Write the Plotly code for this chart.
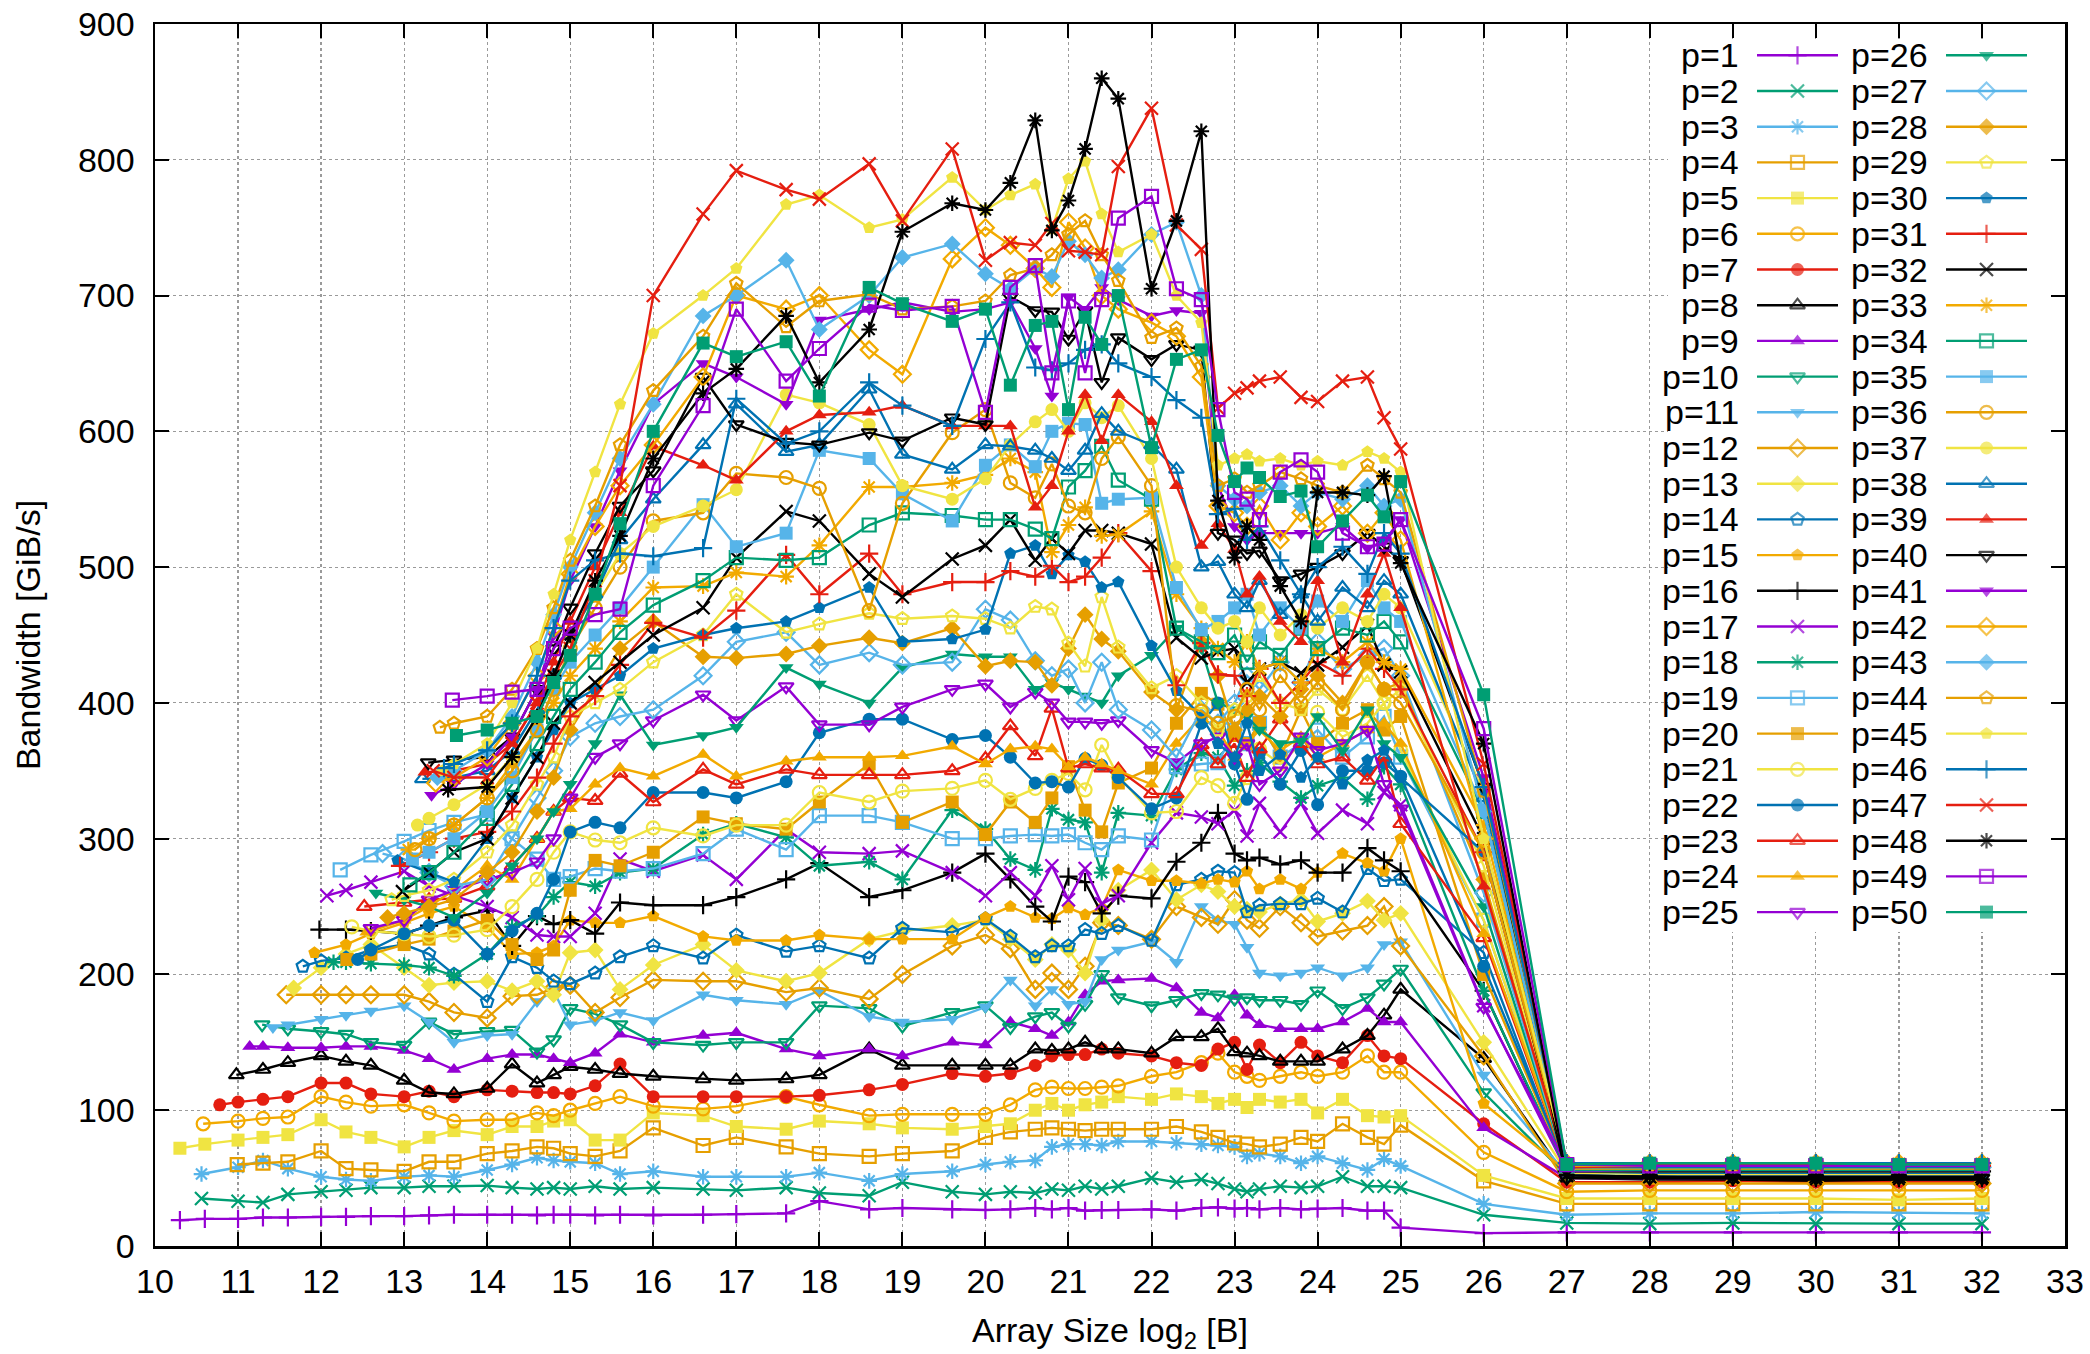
import plotly.graph_objects as go

# ---------------- data ----------------
X_GRID = [10.3, 10.6, 11.0, 11.3, 11.6, 12.0, 12.3, 12.6, 13.0, 13.3, 13.6, 14.0, 14.3, 14.6, 14.8,
          15.0, 15.3, 15.6, 16.0, 16.6, 17.0, 17.6, 18.0, 18.6, 19.0, 19.6,
          20.0, 20.3, 20.6, 20.8, 21.0, 21.2, 21.4, 21.6, 22.0,
          22.3, 22.6, 22.8, 23.0, 23.15, 23.3, 23.55, 23.8, 24.0, 24.3, 24.6, 24.8, 25.0,
          26, 27, 28, 29, 30, 31, 32]

START_X = [10.3, 10.56, 10.56, 10.99, 10.3, 10.58, 10.78, 10.98, 11.14, 11.29,
           11.42, 11.58, 11.67, 11.78, 11.92, 11.98, 12.07, 12.15, 12.23, 12.31,
           12.37, 12.44, 12.52, 12.55, 12.6, 12.66, 12.74, 12.8, 12.85, 12.92,
           12.95, 12.98, 13.05, 13.07, 13.1, 13.13, 13.16, 13.22, 13.25, 13.29,
           13.33, 13.38, 13.4, 13.43, 13.46, 13.48, 13.35, 13.53, 13.58, 13.63]

p01 = [19, 20, 20, 21, 21, 21.5, 21.5, 22, 22, 22.5, 23, 23, 23, 22.5, 23,
       23, 22.5, 23, 22.5, 23, 23.5, 24, 33, 27, 28, 27,
       26.5, 27, 28, 27, 28, 26, 26.5, 26.5, 27,
       26, 28, 28.5, 27.5, 28, 27, 28, 27, 27.5, 28, 26, 26, 13.5,
       9.5, 10, 10, 10, 10, 10, 10]
p02 = [35, 33, 32, 38, 40, 41, 43, 43, 44, 44, 44.5, 43, 42, 43,
       42, 44, 42, 43, 42, 41, 43, 39, 37, 47, 40,
       38, 40, 39, 42, 41, 44, 42, 44, 50,
       47, 49, 46, 42, 40, 42, 44, 43, 44, 51, 44, 44, 43,
       23, 17, 16.5, 17, 16.5, 16.5, 16.5]
p03 = [53, 58, 63, 57, 51, 49, 48, 51, 52, 51, 56, 60, 65, 63,
       62, 61, 53, 55, 51, 51, 51, 54, 48, 53, 55,
       60, 62, 63, 73, 75, 75, 74, 77, 77,
       76, 75, 74, 73, 66, 68, 66, 61, 66, 61, 56, 64, 59,
       31, 23, 24, 24, 25, 24.5, 24]
p04 = [60, 61, 62, 70, 57, 56, 55, 62, 62, 68, 70, 73, 72,
       68, 66, 70, 87, 74, 80, 73, 68, 66, 68, 70,
       80, 84, 86, 87, 86, 85, 86, 86, 86,
       88, 84, 80, 76, 75, 73, 75, 80, 77, 90, 80, 75, 89,
       48, 31, 31, 31, 31, 31, 31]
p05 = [72, 75, 78, 80, 82, 93, 84, 80, 73, 80, 85, 82, 88, 88, 92,
       93, 78, 78, 98, 96, 88, 86, 92, 90, 87, 86,
       88, 90, 100, 105, 100, 104, 106, 110, 108,
       112, 110, 105, 108, 102, 108, 106, 108, 98, 108, 96, 95, 96,
       52, 35, 35, 35, 35, 34, 35]
p06 = [90, 92, 94, 95, 110, 106, 103, 104, 98, 92, 93, 93, 98, 96,
       100, 105, 110, 103, 101, 103, 110, 104, 96, 97, 97,
       97, 104, 115, 117, 116, 116, 117, 118, 125,
       128, 135, 142, 128, 125, 122, 125, 128, 125, 128, 140, 128, 128,
       69, 40, 41, 41, 41, 41, 41]
p07 = [104, 106, 108, 110, 120, 120, 112, 110, 114, 110, 115, 114, 113, 113,
       112, 118, 134, 110, 110, 110, 110, 111, 115, 119, 127,
       125, 127, 133, 140, 141, 141, 145, 142, 140,
       135, 133, 145, 150, 130, 148, 135, 150, 140, 135, 155, 140, 138,
       90, 47, 47, 48, 47, 47, 47]
p08 = [126, 130, 135, 140, 136, 133, 122, 113, 112, 116, 134, 120, 126,
       132, 130, 127, 125, 123, 122, 123, 126, 145, 133, 133,
       133, 133, 145, 144, 145, 150, 145, 145, 142,
       154, 154, 160, 143, 142, 140, 136, 136, 136, 145, 155, 170, 189,
       138, 50, 49, 49, 48, 49, 49]
p09 = [147, 147, 146, 146, 147, 147, 144, 138, 130, 138, 141, 141, 138,
       135, 142, 156, 150, 155, 157, 145, 140, 145, 140, 150,
       148, 165, 160, 155, 165, 185, 195, 196, 197,
       190, 172, 168, 185, 170, 163, 160, 160, 160, 165, 175, 165, 165,
       87, 50, 50, 50, 50, 50, 50]
p10 = [163, 160, 158, 156, 150, 148, 165, 156, 158, 159, 143, 152,
       175, 171, 163, 150, 148, 150, 150, 177, 175, 162, 172,
       177, 161, 169, 172, 162, 178, 200, 183, 177,
       181, 186, 185, 182, 183, 181, 181, 178, 188, 175, 183, 193, 204,
       113, 52, 51, 51, 51, 51, 51]
p11 = [161, 163, 167, 170, 173, 177, 165, 150, 155, 156, 180, 188,
       163, 166, 172, 166, 185, 181, 178, 188, 169, 165, 167,
       176, 196, 177, 189, 178, 180, 211, 218, 224,
       209, 250, 240, 237, 220, 201, 199, 201, 205, 199, 205, 222, 224,
       126, 53, 52, 52, 52, 52, 52]
p12 = [185, 185, 185, 185, 185, 180, 172, 168, 184, 185, 190,
       192, 172, 183, 196, 195, 195, 187, 190, 182, 200, 221,
       229, 219, 189, 201, 189, 206, 238, 236, 226,
       250, 242, 237, 255, 240, 234, 250, 238, 228, 232, 236, 250, 221,
       140, 46, 46, 46, 46, 46, 46]
p13 = [190, 205, 215, 222, 205, 192, 194, 195, 188, 195, 185,
       216, 218, 189, 207, 222, 203, 195, 201, 226, 232, 236,
       240, 226, 211, 222, 218, 201, 240, 262, 277,
       255, 266, 261, 250, 248, 246, 252, 255, 239, 245, 254, 240, 245,
       150, 54, 53, 53, 53, 53, 53]
p14 = [206, 210, 212, 218, 222, 215, 200, 180, 213, 205, 195,
       193, 201, 213, 221, 212, 229, 217, 221, 212, 234, 231,
       241, 228, 213, 221, 221, 233, 230, 236, 225,
       266, 270, 276, 275, 246, 251, 252, 252, 256, 246, 278, 269, 270,
       216, 55, 54, 54, 54, 54, 54]
p15 = [216, 222, 230, 238, 245, 250, 235, 215, 216, 221,
       240, 238, 238, 243, 228, 225, 225, 229, 226, 226, 226,
       242, 250, 242, 241, 249, 244, 249, 277, 269,
       269, 267, 270, 268, 276, 263, 270, 263, 275, 289, 282, 276, 300,
       105, 55, 55, 55, 55, 55, 55]
p16 = [233, 233, 232, 230, 236, 242, 247, 221, 243, 237,
       240, 230, 253, 251, 251, 257, 270, 282, 257, 262, 275,
       289, 270, 250, 239, 272, 268, 245, 258, 256,
       283, 297, 319, 289, 284, 286, 281, 284, 275, 275, 293, 284, 276,
       188, 55, 55, 55, 55, 55, 55]
p17 = [258, 262, 268, 276, 265, 258, 250, 242, 229, 228,
       228, 245, 285, 276, 288, 270, 307, 290, 289, 291, 275,
       258, 275, 258, 280, 255, 278, 252, 258, 297,
       319, 316, 311, 321, 302, 326, 305, 326, 304, 321, 311, 334, 325,
       177, 55, 56, 56, 56, 56, 56]
p18 = [209, 209, 208, 207, 205, 199, 215, 235, 243, 257,
       268, 265, 275, 278, 303, 311, 301, 280, 283, 270, 321,
       307, 285, 277, 322, 314, 312, 275, 319, 317,
       351, 363, 360, 339, 350, 356, 342, 330, 339, 345, 329, 353, 340,
       188, 56, 56, 56, 56, 56, 56]
p19 = [277, 288, 298, 306, 312, 318, 300, 285, 270,
       272, 278, 276, 278, 289, 307, 292, 317, 317, 312, 300,
       300, 302, 303, 302, 303, 297, 292, 302, 299,
       353, 355, 356, 380, 370, 385, 360, 370, 380, 360, 375, 390, 360,
       240, 57, 57, 57, 57, 57, 57]
p20 = [211, 215, 222, 226, 232, 240, 222, 211, 218,
       262, 284, 280, 290, 316, 311, 307, 327, 355, 312, 327,
       303, 327, 312, 330, 353, 321, 305, 341, 352,
       385, 407, 399, 376, 370, 385, 360, 395, 370, 385, 395, 380, 390,
       200, 57, 57, 57, 57, 57, 57]
p21 = [235, 232, 230, 228, 229, 233, 250, 270, 290,
       305, 299, 297, 308, 302, 310, 310, 334, 327, 335, 337,
       343, 329, 337, 343, 348, 336, 369, 346, 319,
       320, 345, 339, 326, 345, 366, 355, 370, 393, 375, 385, 400, 365,
       240, 58, 58, 58, 58, 58, 58]
p22 = [211, 218, 230, 236, 240, 215, 232, 245, 270,
       305, 312, 308, 334, 334, 330, 342, 378, 388, 388, 373,
       376, 360, 341, 342, 338, 359, 354, 345, 322,
       330, 385, 400, 355, 329, 363, 340, 365, 325, 350, 350, 356, 346,
       206, 58, 58, 58, 58, 58, 58]
p23 = [250, 253, 255, 256, 265, 280, 300, 320,
       330, 328, 348, 327, 351, 340, 351, 347, 347, 347, 350,
       359, 383, 361, 396, 352, 355, 352, 351, 333,
       333, 369, 355, 370, 345, 366, 388, 370, 355, 360, 343, 360, 311,
       227, 58, 58, 58, 58, 58, 58]
p24 = [231, 240, 250, 262, 280, 270, 300, 320,
       322, 340, 352, 346, 362, 346, 357, 360, 360, 361, 368,
       355, 366, 368, 366, 353, 360, 355, 350, 340,
       370, 390, 380, 360, 370, 380, 365, 375, 360, 370, 380, 385, 370,
       230, 59, 59, 59, 59, 59, 59]
p25 = [234, 240, 255, 262, 270, 275, 283, 300,
       330, 360, 370, 387, 406, 387, 412, 384, 384, 397, 410,
       414, 397, 408, 400, 386, 386, 385, 387, 365,
       356, 370, 375, 360, 370, 340, 350, 375, 365, 370, 380, 340, 322,
       176, 59, 59, 59, 59, 59, 59]
p26 = [260, 255, 250, 242, 260, 280, 300, 320,
       340, 370, 406, 369, 376, 382, 426, 414, 400, 426, 436,
       434, 434, 410, 415, 410, 405, 400, 420, 435,
       455, 440, 400, 395, 390, 380, 370, 372, 390, 365, 395, 370, 360,
       250, 57, 57, 57, 57, 57, 57]
p27 = [289, 285, 275, 265, 270, 300, 330, 350,
       375, 385, 390, 395, 420, 445, 452, 428, 437, 428, 430,
       469, 461, 431, 420, 425, 400, 430, 395, 380,
       360, 395, 385, 400, 420, 410, 430, 415, 445, 425, 435, 440, 420,
       260, 57, 58, 58, 58, 58, 58]
p28 = [242, 245, 250, 255, 275, 290, 320, 345,
       380, 410, 440, 460, 434, 433, 436, 442, 448, 444, 455,
       427, 431, 430, 413, 440, 465, 447, 438, 408,
       395, 445, 420, 380, 395, 405, 390, 410, 420, 400, 430, 410, 415,
       270, 57, 57, 57, 57, 57, 57]
p29 = [255, 258, 262, 270, 290, 310, 340, 360,
       390, 400, 410, 430, 450, 480, 452, 458, 466, 462, 464,
       462, 455, 471, 469, 444, 427, 478, 441, 411,
       420, 400, 380, 395, 405, 420, 400, 395, 410, 395, 420, 400, 410,
       280, 58, 58, 58, 58, 58, 58]
p30 = [284, 275, 268, 300, 330, 360, 380,
       400, 410, 420, 440, 450, 455, 460, 470, 485, 445, 447,
       454, 510, 516, 495, 509, 504, 485, 489, 442,
       409, 390, 370, 360, 385, 350, 362, 345, 360, 340, 358, 365, 345,
       290, 58, 58, 58, 58, 58, 58]
p31 = [280, 290, 300, 305, 320, 345, 370,
       390, 405, 428, 459, 448, 468, 509, 480, 510, 480, 489,
       489, 497, 493, 501, 489, 493, 507, 525, 497,
       413, 444, 421, 420, 405, 425, 400, 415, 430, 420, 440, 425, 410,
       290, 58, 59, 59, 59, 59, 59]
p32 = [261, 275, 290, 300, 330, 360, 385,
       400, 415, 430, 450, 470, 507, 541, 534, 495, 478, 506,
       516, 535, 505, 521, 510, 527, 527, 525, 517,
       448, 433, 438, 440, 415, 425, 430, 422, 428, 441, 457, 428, 423,
       300, 52, 51, 51, 51, 51, 51]
p33 = [292, 300, 310, 330, 355, 380, 400,
       420, 440, 460, 485, 486, 496, 493, 516, 559, 559, 562,
       568, 580, 570, 511, 531, 544, 523, 524, 541,
       480, 455, 440, 430, 445, 425, 430, 415, 440, 430, 445, 430, 425,
       310, 59, 59, 59, 59, 59, 59]
p34 = [266, 275, 290, 315, 340, 370, 390,
       410, 430, 452, 472, 490, 507, 505, 507, 531, 540, 538,
       535, 535, 528, 521, 559, 571, 589, 564, 550,
       455, 445, 437, 450, 430, 445, 435, 455, 440, 455, 450, 460, 445,
       320, 59, 59, 59, 59, 59, 59]
p35 = [285, 290, 300, 320, 345, 380, 410,
       430, 450, 470, 500, 546, 515, 525, 586, 580, 554, 534,
       575, 590, 574, 600, 606, 605, 547, 550, 551,
       485, 454, 460, 470, 480, 450, 470, 455, 475, 460, 490, 470, 460,
       321, 59, 60, 60, 60, 60, 60]
p36 = [292, 300, 310, 330, 350, 380, 410,
       440, 470, 500, 534, 540, 569, 566, 558, 468, 547, 599,
       616, 562, 551, 576, 545, 540, 580, 596, 560,
       398, 394, 385, 390, 410, 395, 420, 400, 415, 395, 430, 410, 400,
       290, 59, 59, 59, 59, 59, 59]
p37 = [310, 315, 325, 340, 360, 390, 420,
       450, 480, 510, 530, 545, 557, 627, 621, 605, 560, 550,
       565, 590, 607, 616, 600, 621, 610, 619, 580,
       500, 470, 455, 460, 445, 470, 450, 465, 455, 470, 460, 480, 470,
       334, 60, 60, 60, 60, 60, 60]
p38 = [344, 345, 350, 365, 395, 420,
       450, 480, 520, 550, 590, 620, 585, 590, 631, 583, 572,
       590, 589, 586, 580, 571, 586, 613, 600, 590,
       572, 500, 504, 480, 470, 490, 465, 480, 460, 485, 470, 490, 480,
       330, 60, 60, 60, 60, 60, 60]
p39 = [349, 350, 355, 370, 400, 430,
       460, 500, 540, 589, 575, 564, 600, 612, 614, 619, 604,
       604, 604, 544, 560, 600, 627, 593, 627, 607,
       560, 516, 532, 513, 480, 493, 460, 445, 490, 430, 480, 510, 470,
       265, 60, 60, 60, 60, 60, 60]
p40 = [356, 358, 360, 375, 410, 440,
       470, 510, 545, 571, 640, 605, 592, 590, 599, 593, 610,
       605, 699, 689, 688, 668, 689, 636, 669, 653,
       664, 660, 525, 520, 510, 512, 490, 495, 500, 510, 525, 515, 505,
       338, 50, 50, 50, 50, 50, 50]
p41 = [332, 340, 355, 375, 410, 450,
       490, 530, 571, 620, 650, 640, 620, 682, 690, 695, 688,
       690, 695, 661, 626, 699, 690, 706, 697, 685,
       689, 687, 560, 530, 520, 525, 525, 525, 525, 530, 514, 519, 535,
       345, 61, 61, 61, 61, 61, 61]
p42 = [341, 345, 360, 385, 420, 455,
       495, 530, 560, 590, 640, 700, 690, 700, 660, 642, 727,
       750, 737, 720, 706, 754, 735, 700, 690, 680,
       670, 640, 545, 540, 530, 545, 520, 540, 530, 545, 525, 540, 520,
       300, 61, 61, 61, 61, 61, 61]
p43 = [345, 350, 365, 390, 430, 465,
       500, 540, 580, 620, 685, 700, 726, 675, 700, 728, 738,
       716, 705, 720, 714, 740, 730, 713, 719, 745,
       754, 700, 560, 550, 545, 555, 560, 545, 555, 550, 560, 545, 550,
       320, 61, 61, 61, 61, 61, 61]
p44 = [382, 385, 390, 410, 440, 470,
       505, 545, 590, 630, 670, 709, 677, 696, 701, 690, 692,
       696, 715, 720, 730, 745, 755, 730, 711, 669,
       676, 648, 560, 565, 555, 560, 570, 565, 560, 555, 575, 565, 555,
       335, 61, 61, 61, 61, 61, 61]
p45 = [350, 355, 370, 400, 440, 480,
       520, 570, 620, 672, 700, 720, 767, 774, 750, 756, 787,
       763, 774, 782, 749, 786, 799, 760, 732, 745,
       700, 680, 575, 580, 583, 578, 580, 575, 578, 575, 585, 580, 570,
       300, 61, 61, 61, 61, 61, 61]
p46 = [352, 355, 365, 385, 420, 455,
       490, 505, 510, 508, 514, 624, 591, 600, 636, 619, 604,
       668, 695, 647, 645, 650, 660, 664, 650, 640,
       623, 610, 539, 543, 520, 530, 505, 480, 500, 515, 495, 525, 510,
       338, 61, 61, 61, 61, 61, 61]
p47 = [350, 345, 345, 370, 400, 420,
       440, 490, 560, 700, 760, 792, 778, 771, 797, 755, 808,
       726, 739, 737, 753, 733, 732, 730, 795, 838,
       752, 734, 617, 628, 632, 637, 640, 625, 622, 637, 640, 610, 587,
       355, 60, 60, 60, 60, 60, 60]
p48 = [336, 338, 360, 390, 420,
       450, 490, 523, 580, 628, 646, 685, 636, 675, 747, 768,
       763, 783, 829, 748, 770, 808, 860, 845, 705,
       755, 821, 549, 507, 530, 520, 486, 460, 555, 555, 553, 567, 503,
       370, 52, 51, 50, 49, 49, 49]
p49 = [402, 405, 408, 410, 440,
       455, 465, 469, 560, 619, 690, 637, 661, 693, 689, 692,
       614, 706, 722, 643, 696, 643, 697, 757, 773,
       705, 697, 616, 555, 550, 535, 570, 579, 570, 525, 515, 517, 535,
       381, 60, 59, 59, 59, 59, 59]
p50 = [376, 380, 385, 390, 415,
       435, 480, 532, 600, 665, 655, 666, 626, 706, 694, 681,
       690, 634, 678, 681, 616, 684, 664, 700, 588,
       653, 660, 597, 563, 573, 566, 552, 556, 515, 534, 553, 537, 563,
       406, 60, 61, 61, 61, 60, 60]

SERIES = [p01, p02, p03, p04, p05, p06, p07, p08, p09, p10,
          p11, p12, p13, p14, p15, p16, p17, p18, p19, p20,
          p21, p22, p23, p24, p25, p26, p27, p28, p29, p30,
          p31, p32, p33, p34, p35, p36, p37, p38, p39, p40,
          p41, p42, p43, p44, p45, p46, p47, p48, p49, p50]
NAMES = [f"p={i}" for i in range(1, 51)]

X_TICKS = list(range(10, 34))
Y_TICKS = list(range(0, 901, 100))

# ---------------- styles ----------------
PURPLE, GREEN, LBLUE, ORANGE = "#9400D3", "#009E73", "#56B4E9", "#E69F00"
YELLOW, ORANGE2, BLUE, RED, BLACK = "#F0E442", "#F2AA00", "#0072B2", "#E51E10", "#000000"
COLORS = [PURPLE, GREEN, LBLUE, ORANGE, YELLOW, ORANGE2, RED, BLACK,
          PURPLE, GREEN, LBLUE, ORANGE, YELLOW, BLUE, ORANGE2, BLACK,
          PURPLE, GREEN, LBLUE, ORANGE, YELLOW, BLUE, RED, ORANGE2, PURPLE,
          GREEN, LBLUE, ORANGE, YELLOW, BLUE, RED, BLACK, ORANGE2,
          GREEN, LBLUE, ORANGE, YELLOW, BLUE, RED, BLACK, PURPLE, ORANGE2,
          LBLUE, ORANGE, YELLOW, BLUE, RED, BLACK, PURPLE, GREEN]
SYMBOL_CYCLE = ["cross-thin", "x-thin", "asterisk", "square-open", "square",
                "circle-open", "circle", "triangle-up-open", "triangle-up",
                "triangle-down-open", "triangle-down", "diamond-open", "diamond",
                "pentagon-open", "pentagon"]

FONT = "Liberation Sans, Arial, Helvetica, sans-serif"
FS = 34
MSIZE = 13
LW = 2.4

# page body margin is removed (see post_script), so figure pixels == page pixels
OFF = 0
L, R, T, B = 155 - OFF, 2065 - OFF, 24 - OFF, 1246 - OFF
W, H = 2090 - OFF, 1354 - OFF

fig = go.Figure()
mismatch = []

def marker_for(i, size):
    sym = SYMBOL_CYCLE[i % 15]
    col = COLORS[i]
    is_line = ("open" in sym) or sym in ("cross-thin", "x-thin", "asterisk")
    return dict(symbol=sym, size=size, color=col,
                line=dict(color=col, width=2.2 if is_line else 0))

for i, (start, vals) in enumerate(zip(START_X, SERIES)):
    after = [x for x in X_GRID if x > start + 0.1]
    n_after = len(vals) - 1
    if n_after != len(after):
        mismatch.append(i + 1)
    xs = [start] + X_GRID[len(X_GRID) - n_after:]
    fig.add_trace(go.Scatter(
        x=xs, y=vals, mode="lines+markers", name=NAMES[i],
        line=dict(color=COLORS[i], width=LW),
        marker=marker_for(i, MSIZE), showlegend=False,
        hoverinfo="skip"))

# ----- key (gnuplot style: text right-aligned, sample to the right) -----
ROW0, ROWH = 55.3 - OFF, 35.7
COLS = [(1741 - OFF, 1757 - OFF, 1838 - OFF), (1930 - OFF, 1946 - OFF, 2027 - OFF)]
annotations = []
for i in range(50):
    c = 0 if i < 25 else 1
    r = i if i < 25 else i - 25
    ty, (tx, lx0, lx1) = ROW0 + ROWH * r, COLS[c]
    annotations.append(dict(x=tx, y=ty, xref="x2", yref="y2", text=NAMES[i],
                            showarrow=False, xanchor="right", yanchor="middle",
                            font=dict(family=FONT, size=FS, color="black")))
    m = marker_for(i, [0, MSIZE, 0])
    m["line"]["width"] = [0, m["line"]["width"], 0]
    fig.add_trace(go.Scatter(
        x=[lx0, (lx0 + lx1) / 2, lx1], y=[ty, ty, ty], xaxis="x2", yaxis="y2",
        mode="lines+markers", line=dict(color=COLORS[i], width=LW),
        marker=m, showlegend=False, hoverinfo="skip"))

if mismatch:
    annotations.append(dict(x=0.5, y=0.5, xref="paper", yref="paper",
                            text="MISMATCH " + ",".join(map(str, mismatch)),
                            showarrow=False, font=dict(size=40, color="red")))

# opaque key box that hides the grid behind the key
def px_to_x(px):
    return 10 + (px - L) * 23.0 / (R - L)

def px_to_y(py):
    return (B - py) * 900.0 / (B - T)

shapes = [dict(type="rect", xref="x", yref="y", layer="between",
               x0=px_to_x(1668 - OFF), x1=px_to_x(2050 - OFF),
               y0=px_to_y(932 - OFF), y1=px_to_y(40 - OFF),
               fillcolor="white", line=dict(width=0))]

axis_common = dict(showline=True, linecolor="black", linewidth=2.5, mirror="allticks",
                   ticks="inside", ticklen=14, tickwidth=2, tickcolor="black",
                   showgrid=True, gridcolor="#9a9a9a", griddash="dot", gridwidth=1.2,
                   zeroline=False, automargin=False, ticklabeloverflow="allow",
                   tickfont=dict(family=FONT, size=FS, color="black"))

fig.update_layout(
    width=W, height=H,
    margin=dict(l=L, r=W - R, t=T, b=H - B, autoexpand=False),
    paper_bgcolor="white", plot_bgcolor="white",
    font=dict(family=FONT, size=FS, color="black"),
    xaxis=dict(range=[10, 33], tickvals=X_TICKS, ticktext=[str(v) for v in X_TICKS],
               ticklabelstandoff=4,
               title=dict(text="Array Size log<sub>2</sub> [B]", standoff=20,
                          font=dict(family=FONT, size=FS, color="black")),
               **axis_common),
    yaxis=dict(range=[0, 900], tickvals=Y_TICKS, ticktext=[str(v) for v in Y_TICKS],
               ticklabelstandoff=11,
               title=dict(text="Bandwidth [GiB/s]", standoff=27,
                          font=dict(family=FONT, size=FS, color="black")),
               **axis_common),
    xaxis2=dict(overlaying="x", range=[L, R], visible=False, fixedrange=True),
    yaxis2=dict(overlaying="y", range=[B, T], visible=False, fixedrange=True),
    annotations=annotations,
    shapes=shapes,
    showlegend=False,
)

fig.write_html("out.html",
               config={"displayModeBar": False, "staticPlot": True},
               post_script="document.body.style.margin='0';document.body.style.overflow='hidden';")
